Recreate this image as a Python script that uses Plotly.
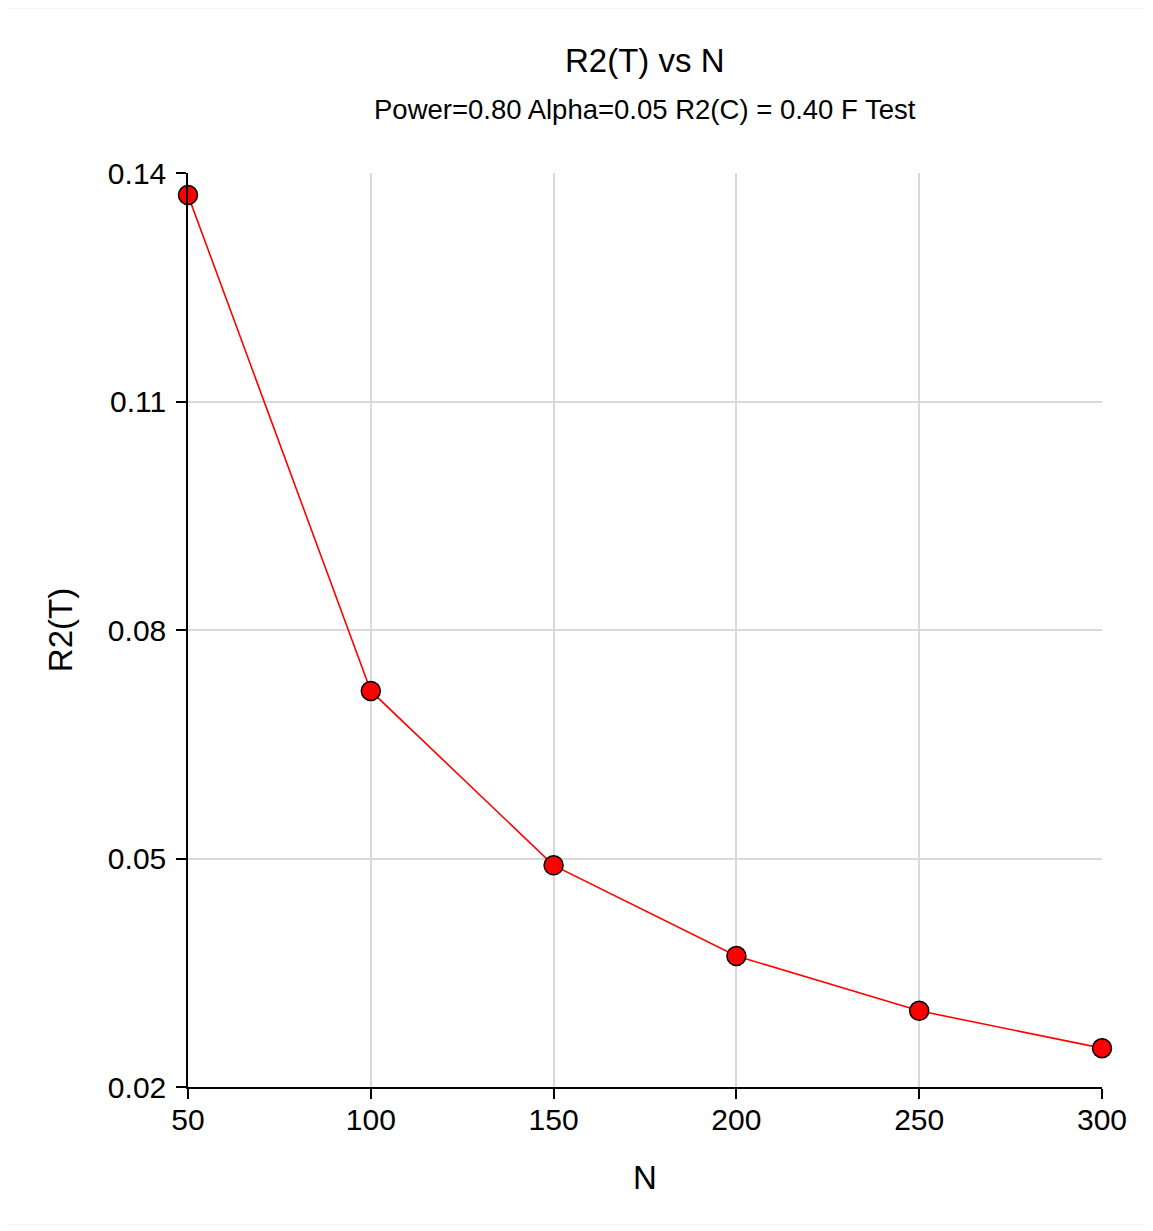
import plotly.graph_objects as go

n_values = [50, 100, 150, 200, 250, 300]
r2t_values = [0.1371, 0.0720, 0.0491, 0.0372, 0.0300, 0.0251]
x_ticks = [50, 100, 150, 200, 250, 300]
y_ticks = [0.02, 0.05, 0.08, 0.11, 0.14]
y_tick_labels = ["0.02", "0.05", "0.08", "0.11", "0.14"]
title_text = "R2(T) vs N"
subtitle_text = "Power=0.80 Alpha=0.05 R2(C) = 0.40 F Test"

OFF = 8  # page body margin
W, H = 1153 - OFF, 1231 - OFF
L, T = 188 - OFF, 173 - OFF
pw, ph = 914, 914
R, B = W - L - pw, H - T - ph

FONT = "Liberation Sans, Arial, sans-serif"

fig = go.Figure()
fig.add_trace(go.Scatter(
    x=n_values, y=r2t_values, mode="lines+markers",
    line=dict(color="#ff0000", width=1.6),
    marker=dict(size=19, color="#ff0000", line=dict(color="#000000", width=1.5)),
    cliponaxis=False, showlegend=False,
))

def py(abs_y):
    # absolute page y (px) -> paper fraction
    return 1 - (abs_y - OFF - T) / ph

def px(abs_x):
    return (abs_x - OFF - L) / pw

fig.add_annotation(text=title_text, xref="paper", yref="paper",
                   x=px(645), y=py(60), xanchor="center", yanchor="middle",
                   showarrow=False, font=dict(size=33, family=FONT, color="#000000"))
fig.add_annotation(text=subtitle_text, xref="paper", yref="paper",
                   x=px(645), y=py(110), xanchor="center", yanchor="middle",
                   showarrow=False, font=dict(size=27.5, family=FONT, color="#000000"))

fig.update_layout(
    width=W, height=H,
    margin=dict(l=L, r=R, t=T, b=B, autoexpand=False),
    paper_bgcolor="white", plot_bgcolor="white",
    font=dict(family=FONT, color="#000000"),
    xaxis=dict(
        range=[50, 300], tickvals=x_ticks, ticktext=[str(v) for v in x_ticks],
        showgrid=True, gridcolor="#d9d9d9", gridwidth=1.5,
        showline=True, linecolor="#000000", linewidth=1.5,
        ticks="outside", ticklen=10, tickwidth=1.5, tickcolor="#000000",
        tickfont=dict(size=30, family=FONT), zeroline=False,
        ticklabelstandoff=-5,
        title=dict(text="N", font=dict(size=33, family=FONT), standoff=31),
    ),
    yaxis=dict(
        range=[0.02, 0.14], tickvals=y_ticks, ticktext=y_tick_labels,
        showgrid=True, gridcolor="#d9d9d9", gridwidth=1.5,
        showline=True, linecolor="#000000", linewidth=1.5,
        ticks="outside", ticklen=10, tickwidth=1.5, tickcolor="#000000",
        tickfont=dict(size=30, family=FONT), zeroline=False,
        ticklabelstandoff=4,
        title=dict(text="R2(T)", font=dict(size=33, family=FONT), standoff=25),
    ),
)

# faint outer frame of the picture
fig.add_shape(
    type="rect", xref="paper", yref="paper", layer="below",
    x0=px(6), x1=px(1147), y0=py(1225), y1=py(8),
    line=dict(color="#eeeeee", width=1),
)

fig.write_html("out.html")
